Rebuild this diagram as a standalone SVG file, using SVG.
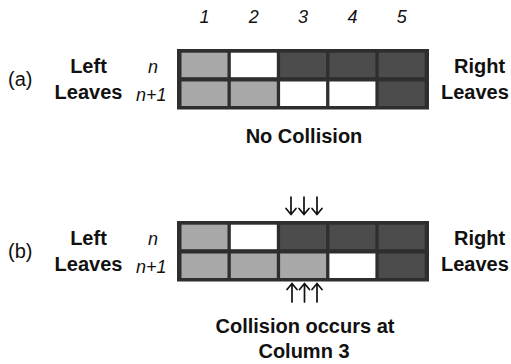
<svg xmlns="http://www.w3.org/2000/svg" width="511" height="364" viewBox="0 0 511 364">
<style>
text{font-family:"Liberation Sans",Arial,sans-serif;fill:#111}
.b{font-weight:bold;font-size:20px}
.r{font-size:20px}
.i{font-style:italic;font-size:18px}
.m{text-anchor:middle}
.frame{fill:#2e2e2e}
.L{fill:#a8a8a8}
.D{fill:#4c4c4c}
.W{fill:#ffffff}
.arr{fill:none;stroke:#111;stroke-width:1.7;stroke-linecap:round;stroke-linejoin:miter}
</style>
<rect width="511" height="364" fill="#fff"/>
<g id="column-numbers">
<text class="i m" x="204.5" y="23">1</text>
<text class="i m" x="253.8" y="23">2</text>
<text class="i m" x="303.1" y="23">3</text>
<text class="i m" x="352.4" y="23">4</text>
<text class="i m" x="401.7" y="23">5</text>
</g>
<g id="panel-a">
<text class="r" x="8" y="86">(a)</text>
<text class="b m" x="88.5" y="73">Left</text>
<text class="b m" x="88.5" y="99">Leaves</text>
<text class="i" x="148" y="73">n</text>
<text class="i" x="136" y="101">n+1</text>
<text class="b" x="454" y="73">Right</text>
<text class="b" x="441" y="99">Leaves</text>
<g id="grid-a">
<rect class="frame" x="177" y="49" width="252" height="60.5"/>
<rect class="L" x="181.5" y="52.7" width="46" height="24.5"/>
<rect class="W" x="230.8" y="52.7" width="46" height="24.5"/>
<rect class="D" x="280.1" y="52.7" width="46" height="24.5"/>
<rect class="D" x="329.4" y="52.7" width="46" height="24.5"/>
<rect class="D" x="378.7" y="52.7" width="46" height="24.5"/>
<rect class="L" x="181.5" y="81.5" width="46" height="24.5"/>
<rect class="L" x="230.8" y="81.5" width="46" height="24.5"/>
<rect class="W" x="280.1" y="81.5" width="46" height="24.5"/>
<rect class="W" x="329.4" y="81.5" width="46" height="24.5"/>
<rect class="D" x="378.7" y="81.5" width="46" height="24.5"/>
</g>
<text class="b m" x="304" y="143">No Collision</text>
</g>
<g id="panel-b">
<text class="r" x="8" y="258">(b)</text>
<text class="b m" x="88.5" y="245">Left</text>
<text class="b m" x="88.5" y="271">Leaves</text>
<text class="i" x="148" y="245">n</text>
<text class="i" x="136" y="273">n+1</text>
<text class="b" x="454" y="245">Right</text>
<text class="b" x="441" y="271">Leaves</text>
<g id="grid-b">
<rect class="frame" x="177" y="221" width="252" height="60.5"/>
<rect class="L" x="181.5" y="224.7" width="46" height="24.5"/>
<rect class="W" x="230.8" y="224.7" width="46" height="24.5"/>
<rect class="D" x="280.1" y="224.7" width="46" height="24.5"/>
<rect class="D" x="329.4" y="224.7" width="46" height="24.5"/>
<rect class="D" x="378.7" y="224.7" width="46" height="24.5"/>
<rect class="L" x="181.5" y="253.5" width="46" height="24.5"/>
<rect class="L" x="230.8" y="253.5" width="46" height="24.5"/>
<rect class="L" x="280.1" y="253.5" width="46" height="24.5"/>
<rect class="W" x="329.4" y="253.5" width="46" height="24.5"/>
<rect class="D" x="378.7" y="253.5" width="46" height="24.5"/>
</g>
<text class="b m" x="305" y="333">Collision occurs at</text>
<text class="b m" x="304" y="358">Column 3</text>
</g>
<g id="connectors">
<path class="arr" d="M291,197V214M286,208.5L291,214.5L296,208.5"/>
<path class="arr" d="M304,197V214M299,208.5L304,214.5L309,208.5"/>
<path class="arr" d="M317,197V214M312,208.5L317,214.5L322,208.5"/>
<path class="arr" d="M292,302V284M287,289.5L292,283.5L297,289.5"/>
<path class="arr" d="M304.5,302V284M299.5,289.5L304.5,283.5L309.5,289.5"/>
<path class="arr" d="M317,302V284M312,289.5L317,283.5L322,289.5"/>
</g>
</svg>
